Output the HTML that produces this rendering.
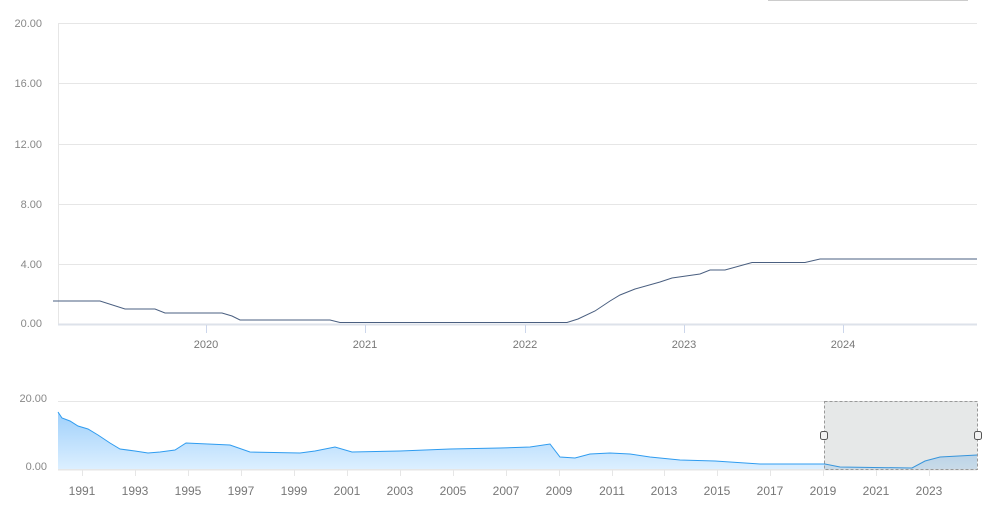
<!DOCTYPE html>
<html><head><meta charset="utf-8"><style>
body{margin:0;background:#fff;}
svg{display:block;font-family:"Liberation Sans",sans-serif;}
</style></head><body>
<svg width="995" height="518" viewBox="0 0 995 518">
<defs><linearGradient id="g" x1="0" y1="0" x2="0" y2="1"><stop offset="0" stop-color="#9fd0fb"/><stop offset="1" stop-color="#dcefff"/></linearGradient></defs>
<line x1="768" y1="0.5" x2="968" y2="0.5" stroke="#ccc"/>
<g stroke="#e6e6e6" stroke-width="1">
<line x1="58" y1="23.5" x2="977" y2="23.5"/><line x1="58" y1="83.5" x2="977" y2="83.5"/>
<line x1="58" y1="144.5" x2="977" y2="144.5"/><line x1="58" y1="204.5" x2="977" y2="204.5"/>
<line x1="58" y1="264.5" x2="977" y2="264.5"/>
<line x1="58.5" y1="23" x2="58.5" y2="324"/>
</g>
<line x1="58" y1="324.5" x2="977" y2="324.5" stroke="#dde2ea" stroke-width="2"/>
<g font-size="11" fill="#888" text-anchor="end">
<text x="42" y="27">20.00</text><text x="42" y="87">16.00</text><text x="42" y="148">12.00</text>
<text x="42" y="208">8.00</text><text x="42" y="268">4.00</text><text x="42" y="327">0.00</text>
</g>
<g font-size="11" fill="#777" text-anchor="middle">
<text x="206" y="348">2020</text><text x="365" y="348">2021</text><text x="525" y="348">2022</text><text x="684" y="348">2023</text><text x="843" y="348">2024</text>
</g>
<g stroke="#ccd6eb"><line x1="206.5" y1="325" x2="206.5" y2="333"/><line x1="365.5" y1="325" x2="365.5" y2="333"/><line x1="525.5" y1="325" x2="525.5" y2="333"/><line x1="684.5" y1="325" x2="684.5" y2="333"/><line x1="843.5" y1="325" x2="843.5" y2="333"/></g>
<polyline fill="none" stroke="#4a5f80" stroke-width="1" points="53,301 100,301 125,309 155,309 165,313 222,313 232,316 240,320 330,320 340,322.5 567,322.5 578,319 595,311 610,301 620,295 635,289 660,282 672,278 700,274 710,270 725,270 752,262.5 805,262.5 820,259 977,259"/>
<line x1="58" y1="401.5" x2="977" y2="401.5" stroke="#e6e6e6"/>
<line x1="58" y1="469.5" x2="977" y2="469.5" stroke="#e6e6e6" stroke-width="2"/>
<g font-size="11" fill="#888" text-anchor="end"><text x="47" y="402">20.00</text><text x="47" y="470">0.00</text></g>
<polygon fill="url(#g)" points="58,412 62,418 70,421 78,426 88,429 98,435 110,443 120,449 135,451 148,453 160,452 175,450 186,443 230,445 250,452 300,453 315,451 335,447 352,452 400,451 450,449 500,448 530,447 550,444 560,457 575,458 590,454 610,453 630,454 650,457 680,460 715,461 730,462 760,464 825,464 840,467 912,468 925,461 940,457 977,455 977,469 58,469"/>
<polyline fill="none" stroke="#2f9cf0" stroke-width="1" points="58,412 62,418 70,421 78,426 88,429 98,435 110,443 120,449 135,451 148,453 160,452 175,450 186,443 230,445 250,452 300,453 315,451 335,447 352,452 400,451 450,449 500,448 530,447 550,444 560,457 575,458 590,454 610,453 630,454 650,457 680,460 715,461 730,462 760,464 825,464 840,467 912,468 925,461 940,457 977,455"/>
<g font-size="12" fill="#777" text-anchor="middle">
<text x="82" y="495">1991</text><text x="135" y="495">1993</text><text x="188" y="495">1995</text><text x="241" y="495">1997</text><text x="294" y="495">1999</text><text x="347" y="495">2001</text><text x="400" y="495">2003</text><text x="453" y="495">2005</text><text x="506" y="495">2007</text><text x="559" y="495">2009</text><text x="612" y="495">2011</text><text x="664" y="495">2013</text><text x="717" y="495">2015</text><text x="770" y="495">2017</text><text x="823" y="495">2019</text><text x="876" y="495">2021</text><text x="929" y="495">2023</text>
</g>
<g stroke="#e6e6e6"><line x1="82.5" y1="470" x2="82.5" y2="476"/><line x1="135.5" y1="470" x2="135.5" y2="476"/><line x1="188.5" y1="470" x2="188.5" y2="476"/><line x1="241.5" y1="470" x2="241.5" y2="476"/><line x1="294.5" y1="470" x2="294.5" y2="476"/><line x1="347.5" y1="470" x2="347.5" y2="476"/><line x1="400.5" y1="470" x2="400.5" y2="476"/><line x1="453.5" y1="470" x2="453.5" y2="476"/><line x1="506.5" y1="470" x2="506.5" y2="476"/><line x1="559.5" y1="470" x2="559.5" y2="476"/><line x1="612.5" y1="470" x2="612.5" y2="476"/><line x1="664.5" y1="470" x2="664.5" y2="476"/><line x1="717.5" y1="470" x2="717.5" y2="476"/><line x1="770.5" y1="470" x2="770.5" y2="476"/><line x1="823.5" y1="470" x2="823.5" y2="476"/><line x1="876.5" y1="470" x2="876.5" y2="476"/><line x1="929.5" y1="470" x2="929.5" y2="476"/></g>
<rect x="824.5" y="401.5" width="153" height="68" fill="rgba(102,115,110,0.16)" stroke="#999" stroke-dasharray="3,2"/>
<rect x="820.5" y="431.5" width="7" height="8" rx="2" fill="#f2f2f2" stroke="#555"/>
<rect x="974.5" y="431.5" width="7" height="8" rx="2" fill="#f2f2f2" stroke="#555"/>
</svg>
</body></html>
